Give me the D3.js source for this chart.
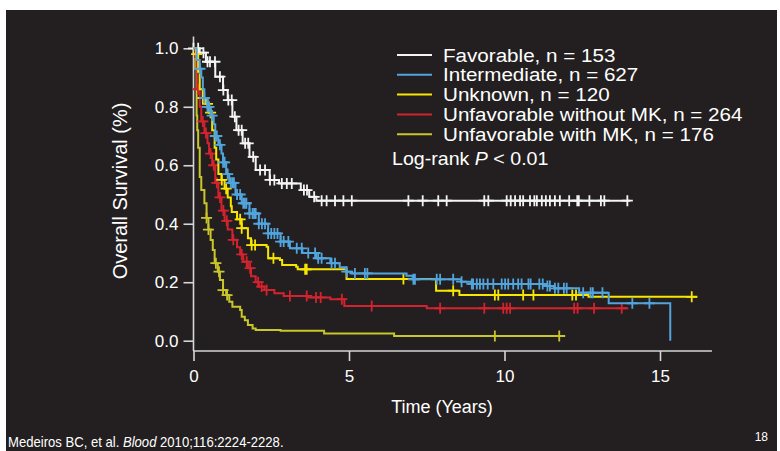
<!DOCTYPE html>
<html>
<head>
<meta charset="utf-8">
<title>Overall survival by cytogenetic group</title>
<script src="https://cdn.jsdelivr.net/npm/d3@7"></script>
<style>
  body { margin: 0; background: #fff; }
  text { font-family: "Liberation Sans", Arial, sans-serif; }
</style>
</head>
<body>
<svg width="780" height="451"></svg>
<script>
// ---- data: [time (years), survival] steps, censor times, last follow-up
var favorableSteps = [[0,1.0],[0.2,0.985],[0.4,0.954],[0.7,0.903],[0.95,0.857],[1.1,0.823],[1.25,0.766],[1.38,0.72],[1.58,0.675],[1.8,0.629],[2.0,0.584],[2.45,0.55],[2.75,0.538],[3.45,0.515],[3.72,0.492],[3.95,0.479]];
var favorableCensor = [0.0,0.15,0.32,0.45,0.53,0.69,0.85,0.96,1.12,1.23,1.33,1.45,1.55,1.66,1.76,1.92,2.14,2.3,2.46,2.6,2.84,3.0,3.16,3.55,3.65,3.88,4.12,4.28,4.55,4.82,5.09,6.91,7.37,7.87,8.14,9.35,9.48,10.07,10.2,10.34,10.5,10.6,10.82,10.96,11.04,11.2,11.33,11.46,11.62,11.78,12.08,12.34,12.39,12.73,13.1,13.21,13.95];
var favorableEnd = 14.04;

var intermediateSteps = [[0,1.0],[0.1,0.96],[0.2,0.93],[0.25,0.9],[0.3,0.86],[0.35,0.83],[0.45,0.8],[0.55,0.77],[0.65,0.74],[0.7,0.7],[0.8,0.67],[0.9,0.64],[0.95,0.61],[1.05,0.57],[1.15,0.54],[1.35,0.5],[1.55,0.47],[1.8,0.435],[2.1,0.4],[2.4,0.367],[2.8,0.339],[3.1,0.316],[3.5,0.3],[3.95,0.282],[4.4,0.265],[4.7,0.251],[4.9,0.236],[5.1,0.23],[6.85,0.222],[7.05,0.21],[8.6,0.202],[8.95,0.194],[11.35,0.187],[11.6,0.179],[12.4,0.164],[13.35,0.128],[15.33,0.0]];
var intermediateCensor = [0.21,0.35,0.45,0.5,0.6,0.7,0.75,0.85,0.95,1.0,1.1,1.2,1.25,1.3,1.4,1.5,1.6,1.65,1.7,1.8,1.9,1.95,2.0,2.1,2.2,2.3,2.4,2.5,2.6,2.7,2.8,2.9,3.05,3.32,3.48,3.69,3.91,4.01,4.12,4.44,4.55,4.93,5.19,5.51,5.59,7.07,7.12,7.82,7.93,8.35,8.62,8.95,8.99,9.11,9.21,9.32,9.46,9.64,9.91,10.02,10.12,10.28,10.44,10.55,10.77,10.84,11.12,11.23,11.38,11.46,11.62,11.73,11.91,12.0,12.53,12.77,12.84,13.15,14.11,14.66];
var intermediateEnd = 15.33;

var unknownSteps = [[0,1.0],[0.08,0.98],[0.15,0.92],[0.2,0.86],[0.3,0.83],[0.4,0.81],[0.5,0.78],[0.6,0.72],[0.68,0.66],[0.73,0.62],[0.8,0.57],[0.9,0.55],[1.0,0.52],[1.1,0.49],[1.2,0.46],[1.23,0.44],[1.4,0.415],[1.55,0.385],[1.75,0.35],[1.85,0.327],[2.35,0.321],[2.4,0.282],[2.78,0.276],[2.85,0.259],[3.3,0.253],[3.35,0.244],[4.92,0.211],[7.8,0.171],[8.55,0.156],[12.7,0.15]];
var unknownCensor = [0.1,0.3,0.45,0.55,0.91,1.05,1.5,1.55,1.87,1.98,2.57,3.59,3.64,6.75,8.35,9.69,9.8,10.6,10.93,12.18,12.3,16.02];
var unknownEnd = 16.2;

var unfavorableSteps = [[0,1.0],[0.05,0.97],[0.1,0.93],[0.12,0.86],[0.2,0.8],[0.25,0.75],[0.35,0.71],[0.45,0.675],[0.5,0.64],[0.6,0.6],[0.7,0.54],[0.8,0.49],[0.9,0.445],[1.0,0.41],[1.1,0.38],[1.25,0.345],[1.4,0.32],[1.5,0.295],[1.6,0.27],[1.75,0.248],[1.85,0.22],[2.0,0.2],[2.1,0.185],[2.28,0.173],[2.6,0.162],[2.9,0.153],[3.7,0.148],[4.4,0.142],[4.85,0.119],[7.5,0.111]];
var unfavorableCensor = [0.15,0.3,0.4,0.55,0.65,0.75,0.85,0.96,1.07,1.28,1.55,1.71,1.82,2.08,2.19,2.35,3.1,3.64,3.94,4.09,4.77,5.73,7.93,9.35,9.96,10.07,10.18,12.24,12.35,12.88,13.77];
var unfavorableEnd = 13.98;

var mkSteps = [[0,1.0],[0.03,0.99],[0.06,0.93],[0.1,0.77],[0.12,0.72],[0.15,0.66],[0.2,0.56],[0.25,0.515],[0.35,0.47],[0.42,0.42],[0.48,0.38],[0.55,0.344],[0.62,0.31],[0.68,0.265],[0.78,0.236],[0.85,0.208],[0.95,0.173],[1.05,0.156],[1.15,0.133],[1.25,0.116],[1.5,0.105],[1.55,0.082],[1.65,0.07],[1.75,0.054],[1.9,0.042],[2.0,0.037],[2.8,0.034],[4.2,0.025],[6.45,0.016]];
var mkCensor = [0.42,0.48,0.72,0.82,0.95,1.08,9.69,11.76];
var mkEnd = 11.95;

var groupNames = ["Favorable, n = 153", "Intermediate, n = 627", "Unknown, n = 120", "Unfavorable without MK, n = 264", "Unfavorable with MK, n = 176"];
var groupColors = ["#f4f4f4", "#52a5dc", "#f7e600", "#d2232e", "#c9c62a"];
var xTicks = [0, 5, 10, 15];
var yTicks = [0.0, 0.2, 0.4, 0.6, 0.8, 1.0];

// ---- layout
var svg = d3.select("svg");
svg.append("rect").attr("x", 6).attr("y", 10).attr("width", 771).attr("height", 441).attr("fill", "#231f20");

var x = d3.scaleLinear().domain([0, 15]).range([193.5, 660]);
var y = d3.scaleLinear().domain([0, 1]).range([340.7, 48.3]);
var axisCol = "#d6d6d6";

// axes
var xAxis = svg.append("g").attr("transform", "translate(0,351)")
  .call(d3.axisBottom(x).tickValues(xTicks).tickSize(10).tickSizeOuter(0).tickFormat(d3.format("d")));
xAxis.select(".domain").attr("d", "M" + x(0) + ",0H" + x(16.67));
var yAxis = svg.append("g").attr("transform", "translate(193.5,0)")
  .call(d3.axisLeft(y).tickValues(yTicks).tickSize(10).tickSizeOuter(0).tickFormat(d3.format(".1f")));
yAxis.select(".domain").attr("d", "M0," + y(1.04) + "V351");
svg.selectAll(".domain, .tick line").attr("stroke", axisCol).attr("stroke-width", 1.6);
xAxis.selectAll(".tick text").attr("fill", "#fff").attr("font-size", 17).attr("y", 19).attr("font-family", "Liberation Sans, Arial, sans-serif");
yAxis.selectAll(".tick text").attr("fill", "#fff").attr("font-size", 17).attr("x", -15).attr("font-family", "Liberation Sans, Arial, sans-serif");

svg.append("text").text("Time (Years)").attr("x", 442).attr("y", 413)
  .attr("text-anchor", "middle").attr("fill", "#fff").attr("font-size", 18);
svg.append("text").text("Overall Survival (%)")
  .attr("transform", "translate(127,191) rotate(-90)")
  .attr("text-anchor", "middle").attr("fill", "#fff").attr("font-size", 20);

// curves
var groups = [
  { steps: favorableSteps, censor: favorableCensor, end: favorableEnd, color: groupColors[0] },
  { steps: mkSteps, censor: mkCensor, end: mkEnd, color: groupColors[4] },
  { steps: unfavorableSteps, censor: unfavorableCensor, end: unfavorableEnd, color: groupColors[3] },
  { steps: unknownSteps, censor: unknownCensor, end: unknownEnd, color: groupColors[2] },
  { steps: intermediateSteps, censor: intermediateCensor, end: intermediateEnd, color: groupColors[1] }
];

function survAt(steps, t) {
  var s = steps[0][1];
  for (var i = 0; i < steps.length; i++) { if (steps[i][0] <= t) s = steps[i][1]; }
  return s;
}

var line = d3.line().x(function(d){ return x(d[0]); }).y(function(d){ return y(d[1]); }).curve(d3.curveStepAfter);

groups.forEach(function(g) {
  var pts = g.steps.slice();
  var last = pts[pts.length - 1];
  if (last[0] < g.end) pts.push([g.end, last[1]]);
  svg.append("path").attr("d", line(pts)).attr("fill", "none")
    .attr("stroke", g.color).attr("stroke-width", 2);
  svg.append("g").selectAll("path").data(g.censor).enter().append("path")
    .attr("d", function(t) {
      var cx = x(t), cy = y(survAt(g.steps, t));
      return "M" + (cx - 5.5) + "," + cy + "H" + (cx + 5.5) + "M" + cx + "," + (cy - 5.5) + "V" + (cy + 5.5);
    })
    .attr("stroke", g.color).attr("stroke-width", 1.8).attr("fill", "none");
});

// legend (text in the slide is a bit wider than Arial, so stretch it)
var leg = svg.append("g");
groupNames.forEach(function(name, i) {
  var ly = 55 + i * 19.8;
  leg.append("line").attr("x1", 397).attr("x2", 432).attr("y1", ly).attr("y2", ly)
    .attr("stroke", groupColors[i]).attr("stroke-width", 2);
  leg.append("text").text(name)
    .attr("transform", "translate(443," + (ly + 6.5) + ") scale(1.085,1)")
    .attr("fill", "#fff").attr("font-size", 19);
});
var lr = svg.append("text").attr("transform", "translate(392,165) scale(1.09,1)")
  .attr("fill", "#fff").attr("font-size", 18);
lr.append("tspan").text("Log-rank ");
lr.append("tspan").text("P").attr("font-style", "italic");
lr.append("tspan").text(" < 0.01");

// footer
var ft = svg.append("text").attr("transform", "translate(8,447) scale(0.95,1)")
  .attr("fill", "#fff").attr("font-size", 13.8);
ft.append("tspan").text("Medeiros BC, et al. ");
ft.append("tspan").text("Blood").attr("font-style", "italic");
ft.append("tspan").text(" 2010;116:2224-2228.");
svg.append("text").text("18").attr("x", 768).attr("y", 441).attr("text-anchor", "end")
  .attr("fill", "#fff").attr("font-size", 12);
</script>
</body>
</html>
